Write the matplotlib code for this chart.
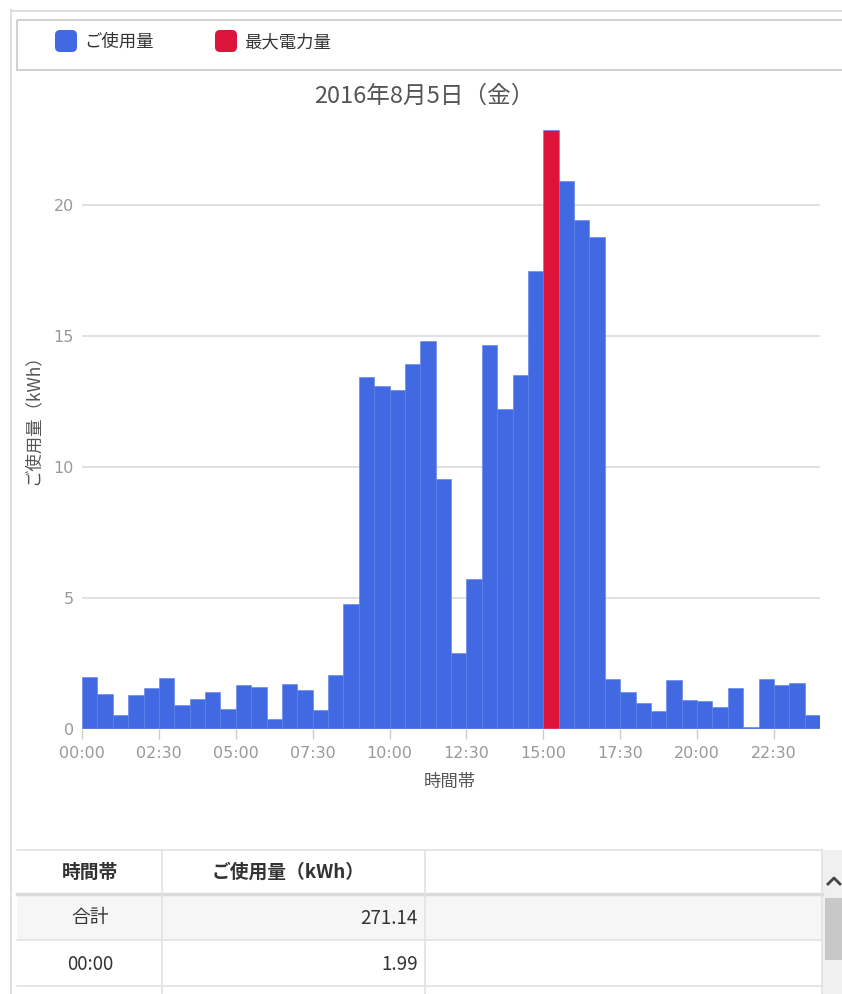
import matplotlib
matplotlib.use("Agg")
import matplotlib.pyplot as plt
from matplotlib.patches import Rectangle, FancyBboxPatch

plt.rcParams['font.family'] = ['Noto Sans CJK JP', 'DejaVu Sans']

# 30-minute usage (kWh), 00:00 .. 23:30
slots = ["%02d:%02d" % (h, m) for h in range(24) for m in (0, 30)]
usage = [1.99, 1.34, 0.55, 1.30, 1.58, 1.94, 0.92, 1.15, 1.42, 0.76,
         1.67, 1.60, 0.37, 1.72, 1.50, 0.71, 2.06, 4.76, 13.42, 13.09,
         12.94, 13.93, 14.80, 9.53, 2.90, 5.74, 14.65, 12.23, 13.52, 17.48,
         22.86, 20.93, 19.43, 18.79, 1.90, 1.41, 1.00, 0.70, 1.87, 1.10,
         1.06, 0.85, 1.56, 0.06, 1.92, 1.69, 1.77, 0.55]
peak_idx = usage.index(max(usage))
tick_pos = list(range(0, 48, 5))
tick_labels = [slots[i] for i in tick_pos]
y_ticks = [0, 5, 10, 15, 20]
total_label = "271.14"

blue = "#4169e1"
red = "#dc143c"
W, H = 842, 994

fig = plt.figure(figsize=(W / 100, H / 100), dpi=100)

# background / chrome in pixel coords
bg = fig.add_axes([0, 0, 1, 1])
bg.set_xlim(0, W)
bg.set_ylim(H, 0)
bg.axis("off")

# outer panel border
bg.plot([10.5, 10.5], [10, H], color="#d9d9d9", lw=1.2)
bg.plot([10.5, W], [10.5, 10.5], color="#d9d9d9", lw=1.2)

# legend box
bg.add_patch(Rectangle((17, 20), W - 17 + 5, 50, fill=False, ec="#c8c8c8", lw=1.2))
for x0, col, lab in [(55, blue, "ご使用量"), (215, red, "最大電力量")]:
    bg.add_patch(FancyBboxPatch((x0, 30), 22, 22, boxstyle="round,pad=0,rounding_size=5",
                                fc=col, ec="none"))
    bg.text(x0 + 29, 42, lab, fontsize=12.5, va="center", ha="left", color="#333333")

# title
bg.text(424, 96, "2016年8月5日（金）", fontsize=17, ha="center", va="center", color="#555555")

# table
tfs = 13.5
bg.add_patch(Rectangle((17, 894), 805, 46, fc="#f6f6f6", ec="none"))
for y in [850, 940, 986]:
    bg.plot([17, 822], [y, y], color="#e2e2e2", lw=1.2)
bg.plot([17, 822], [894, 894], color="#dadada", lw=2.5)
for x in [162, 425]:
    bg.plot([x, x], [850, H], color="#e2e2e2", lw=1.2)
bg.plot([822, 822], [850, H], color="#e2e2e2", lw=1.2)
bg.text(90, 872, "時間帯", fontsize=tfs, fontweight="bold", ha="center", va="center", color="#333333")
bg.text(288, 872, "ご使用量（kWh）", fontsize=tfs, fontweight="bold", ha="center", va="center", color="#333333")
bg.text(90, 918, "合計", fontsize=tfs, ha="center", va="center", color="#333333")
bg.text(418, 918, total_label, fontsize=tfs, ha="right", va="center", color="#333333")
bg.text(90, 964, slots[0], fontsize=tfs, ha="center", va="center", color="#333333")
bg.text(418, 964, "%.2f" % usage[0], fontsize=tfs, ha="right", va="center", color="#333333")

# scrollbar
bg.add_patch(Rectangle((823, 850), 19, H - 850, fc="#f0f0f0", ec="none"))
bg.add_patch(Rectangle((825, 898), 17, 62, fc="#c8c8c8", ec="none"))
bg.plot([828, 834, 840], [884, 878, 884], color="#444444", lw=2)

# chart axes
px_per_unit = 26.2
y0_px, top_val = 729, 23.0
left, right = 82, 820
ax_h = top_val * px_per_unit
ax = fig.add_axes([left / W, (H - y0_px) / H, (right - left) / W, ax_h / H])
ax.set_facecolor("none")

colors = [red if i == peak_idx else blue for i in range(len(usage))]
ax.bar(range(len(usage)), usage, width=1.0, align="edge", color=colors,
       edgecolor="#5b7fe8", linewidth=0.4, zorder=3)

ax.set_xlim(0, 48)
ax.set_ylim(0, top_val)
ax.set_yticks(y_ticks)
ax.set_yticklabels([str(v) for v in y_ticks], family="DejaVu Sans")
ax.set_xticks(tick_pos)
ax.set_xticklabels(tick_labels, family="DejaVu Sans")
ax.grid(axis="y", color="#d8d8d8", lw=1.1, zorder=0)
ax.tick_params(axis="y", length=0, pad=6, labelsize=11.5, labelcolor="#999999")
ax.tick_params(axis="x", length=7, width=1, color="#cccccc", pad=5, labelsize=11.5, labelcolor="#999999")
for s in ax.spines.values():
    s.set_visible(False)
ax.axhline(0, color="#cccccc", lw=1, zorder=4)

ax.set_xlabel("時間帯", fontsize=12.5, color="#555555", va="center")
ax.xaxis.set_label_coords((450 - left) / (right - left), (y0_px - 782) / ax_h)
ax.set_ylabel("ご使用量（kWh）", fontsize=12.5, color="#555555", va="center")
ax.yaxis.set_label_coords((33 - left) / (right - left), (y0_px - 415) / ax_h)

fig.savefig("out.png", dpi=100)
